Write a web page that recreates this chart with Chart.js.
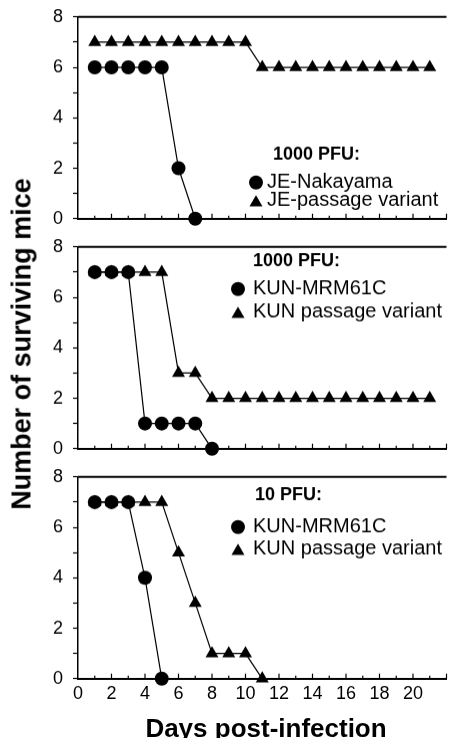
<!DOCTYPE html>
<html>
<head>
<meta charset="utf-8">
<script src="https://cdn.jsdelivr.net/npm/chart.js@4.4.1/dist/chart.umd.min.js"></script>
<style>
  body { margin: 0; background: #fff; width: 454px; height: 738px; position: relative; overflow: hidden;
         font-family: "Liberation Sans", Arial, sans-serif; }
  .panel { position: absolute; left: 0; width: 454px; }
  #ytitle { position: absolute; left: 22px; top: 344px; transform: translate(-50%, -50%) rotate(-90deg);
            white-space: nowrap; font-weight: bold; font-size: 27px; line-height: 27px; }
  #xtitle { position: absolute; left: 266px; top: 715px; transform: translateX(-50%);
            white-space: nowrap; font-weight: bold; font-size: 26px; line-height: 26px; }
</style>
</head>
<body>
<div class="panel" id="p1"><canvas id="c1"></canvas></div>
<div class="panel" id="p2"><canvas id="c2"></canvas></div>
<div class="panel" id="p3"><canvas id="c3"></canvas></div>
<div id="ytitle">Number of surviving mice</div>
<div id="xtitle">Days post-infection</div>
<script>
// days post-infection
const days = [1,2,3,4,5,6,7,8,9,10,11,12,13,14,15,16,17,18,19,20,21];

// panel 1: 1000 PFU
const jeNakayama = [6,6,6,6,6,2,0,null,null,null,null,null,null,null,null,null,null,null,null,null,null];
const jePassage  = [7,7,7,7,7,7,7,7,7,7,6,6,6,6,6,6,6,6,6,6,6];
// panel 2: 1000 PFU
const kunMrm1000     = [7,7,7,1,1,1,1,0,null,null,null,null,null,null,null,null,null,null,null,null,null];
const kunPassage1000 = [7,7,7,7,7,3,3,2,2,2,2,2,2,2,2,2,2,2,2,2,2];
// panel 3: 10 PFU
const kunMrm10     = [7,7,7,4,0,null,null,null,null,null,null,null,null,null,null,null,null,null,null,null,null];
const kunPassage10 = [7,7,7,7,7,5,3,1,1,1,0,null,null,null,null,null,null,null,null,null,null];

const xTicks = [0,2,4,6,8,10,12,14,16,18,20];
const yTicks = [0,2,4,6,8];

const FONT = '"Liberation Sans", Arial, sans-serif';
const PLOT_TOP = [17, 247, 477];
const PLOT_H = 201;
const PAD_TOP = 12;

function pts(ys) {
  return days.map((d, i) => ({ x: d, y: ys[i] }));
}

const frame = {
  id: 'frame',
  beforeDatasetsDraw(chart) {
    const { ctx, chartArea: a, scales: { x } } = chart;
    ctx.save();
    ctx.strokeStyle = '#000';
    ctx.lineWidth = 2;
    ctx.beginPath();
    ctx.moveTo(a.left, a.top);
    ctx.lineTo(a.right, a.top);
    ctx.stroke();
    ctx.lineWidth = 1.2;
    ctx.beginPath();
    for (let d = 1; d <= 22; d++) {
      const px = x.getPixelForValue(d);
      ctx.moveTo(px, a.bottom);
      ctx.lineTo(px, a.bottom - (d % 2 ? 3 : 5));
    }
    ctx.stroke();
    ctx.restore();
  }
};

// legend rows are given relative to the top of the plot area
const panelLegend = {
  id: 'panelLegend',
  afterDraw(chart, args, o) {
    const ctx = chart.ctx;
    const top = chart.chartArea.top;
    ctx.save();
    ctx.fillStyle = '#000';
    ctx.strokeStyle = '#000';
    ctx.textBaseline = 'middle';
    ctx.font = 'bold 18px ' + FONT;
    ctx.fillText(o.title, o.titleX, top + o.titleY);
    ctx.font = '20px ' + FONT;
    chart.data.datasets.forEach((ds, i) => {
      Chart.helpers.drawPoint(ctx, { pointStyle: ds.pointStyle, radius: ds.pointRadius, borderWidth: 0 },
        o.markX, top + o.rows[i] + (ds.pointStyle === 'triangle' ? 2 : 0));
      ctx.fillText(ds.label, o.textX, top + o.rows[i]);
    });
    ctx.restore();
  }
};

function makePanel(n, circles, triangles, labels, legend, bottom) {
  const xh = bottom ? 30 : 8;
  const div = document.getElementById('p' + n);
  let h = PAD_TOP + PLOT_H + xh;
  div.style.top = (PLOT_TOP[n - 1] - PAD_TOP) + 'px';
  div.style.height = h + 'px';
  const ds = (label, data, style, r) => ({
    label: label,
    data: pts(data),
    pointStyle: style,
    pointRadius: r,
    pointBackgroundColor: '#000',
    pointBorderColor: '#000',
    pointBorderWidth: 0,
    borderColor: '#000',
    borderWidth: 1.2,
    fill: false,
    clip: false,
    tension: 0
  });
  const chart = new Chart(document.getElementById('c' + n), {
    type: 'line',
    data: {
      datasets: [ds(labels[0], circles, 'circle', 7), ds(labels[1], triangles, 'triangle', 7.5)]
    },
    options: {
      responsive: true,
      maintainAspectRatio: false,
      animation: false,
      events: [],
      layout: { padding: { top: PAD_TOP, left: 0, right: 0, bottom: 0 } },
      plugins: {
        legend: { display: false },
        tooltip: { enabled: false },
        panelLegend: legend
      },
      scales: {
        x: {
          type: 'linear', min: 0, max: 22,
          afterFit: s => { s.height = xh; },
          afterBuildTicks: s => { s.ticks = xTicks.map(v => ({ value: v })); },
          grid: { display: false },
          border: { display: true, color: '#000', width: 2 },
          ticks: { display: bottom, color: '#000', padding: -4, maxRotation: 0, autoSkip: false,
                   font: { family: FONT, size: 18 } }
        },
        y: {
          min: 0, max: 8,
          afterFit: s => { s.width = 78; },
          afterBuildTicks: s => { s.ticks = [0,1,2,3,4,5,6,7,8].map(v => ({ value: v })); },
          grid: { drawOnChartArea: false, color: '#000', tickLength: 5, tickWidth: 1.2 },
          border: { display: true, color: '#000', width: 1.5 },
          ticks: { color: '#000', padding: 10, autoSkip: false,
                   callback: v => yTicks.includes(v) ? v : '',
                   font: { family: FONT, size: 18 } }
        }
      }
    },
    plugins: [frame, panelLegend]
  });
  // line the plot area up with the reference panel
  for (let k = 0; k < 3; k++) {
    const a = chart.chartArea;
    h += PLOT_H - (a.bottom - a.top);
    div.style.height = h + 'px';
    chart.resize();
  }
  div.style.top = (PLOT_TOP[n - 1] - chart.chartArea.top) + 'px';
  return chart;
}

makePanel(1, jeNakayama, jePassage, ['JE-Nakayama', 'JE-passage variant'],
  { title: '1000 PFU:', titleX: 273, titleY: 137, markX: 256, textX: 267, rows: [165, 183] }, false);
makePanel(2, kunMrm1000, kunPassage1000, ['KUN-MRM61C', 'KUN passage variant'],
  { title: '1000 PFU:', titleX: 253, titleY: 14, markX: 238, textX: 253, rows: [42, 65] }, false);
makePanel(3, kunMrm10, kunPassage10, ['KUN-MRM61C', 'KUN passage variant'],
  { title: '10 PFU:', titleX: 255, titleY: 18, markX: 238, textX: 253, rows: [50, 72] }, true);
</script>
</body>
</html>
